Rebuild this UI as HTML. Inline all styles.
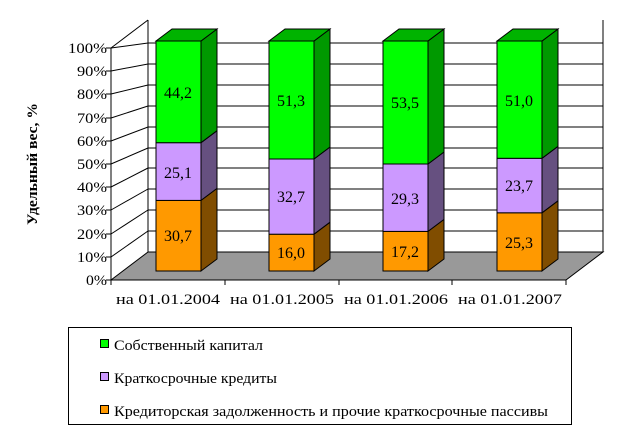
<!DOCTYPE html>
<html><head><meta charset="utf-8"><style>
body{margin:0;background:#fff;font-family:"Liberation Serif","Times New Roman",serif;}
text{font-family:"Liberation Serif","Times New Roman",serif !important;fill:#000;}
</style></head><body>
<svg width="620" height="434" xmlns="http://www.w3.org/2000/svg" font-family="Liberation Serif, Times New Roman, serif">
<g stroke="#000" stroke-width="1" fill="none">
<line x1="148" y1="20" x2="148" y2="252"/>
<line x1="603" y1="20" x2="603" y2="252"/>
<line x1="148" y1="43" x2="603" y2="43"/>
<line x1="148" y1="64" x2="603" y2="64"/>
<line x1="148" y1="85" x2="603" y2="85"/>
<line x1="148" y1="106" x2="603" y2="106"/>
<line x1="148" y1="127" x2="603" y2="127"/>
<line x1="148" y1="148" x2="603" y2="148"/>
<line x1="148" y1="168" x2="603" y2="168"/>
<line x1="148" y1="189" x2="603" y2="189"/>
<line x1="148" y1="210" x2="603" y2="210"/>
<line x1="148" y1="231" x2="603" y2="231"/>
<line x1="111" y1="48" x2="148" y2="20"/>
<line x1="111" y1="48" x2="148" y2="43"/>
<line x1="111" y1="71" x2="148" y2="64"/>
<line x1="111" y1="94" x2="148" y2="85"/>
<line x1="111" y1="118" x2="148" y2="106"/>
<line x1="111" y1="141" x2="148" y2="127"/>
<line x1="111" y1="164" x2="148" y2="148"/>
<line x1="111" y1="187" x2="148" y2="168"/>
<line x1="111" y1="210" x2="148" y2="189"/>
<line x1="111" y1="234" x2="148" y2="210"/>
<line x1="111" y1="257" x2="148" y2="231"/>
</g>
<polygon points="111,280 148,252 603,252 566,280" fill="#999" stroke="#000"/>
<line x1="111" y1="48" x2="111" y2="280" stroke="#000"/>
<g stroke="#000">
<line x1="106" y1="48" x2="111" y2="48"/><line x1="106" y1="71" x2="111" y2="71"/><line x1="106" y1="94" x2="111" y2="94"/><line x1="106" y1="118" x2="111" y2="118"/><line x1="106" y1="141" x2="111" y2="141"/><line x1="106" y1="164" x2="111" y2="164"/><line x1="106" y1="187" x2="111" y2="187"/><line x1="106" y1="210" x2="111" y2="210"/><line x1="106" y1="234" x2="111" y2="234"/><line x1="106" y1="257" x2="111" y2="257"/><line x1="106" y1="280" x2="111" y2="280"/>
<line x1="111" y1="280" x2="566" y2="280"/>
<line x1="111" y1="280" x2="111" y2="285"/><line x1="225" y1="280" x2="225" y2="285"/><line x1="339" y1="280" x2="339" y2="285"/><line x1="452" y1="280" x2="452" y2="285"/><line x1="566" y1="280" x2="566" y2="285"/>
</g>
<g font-size="15" text-anchor="end">
<text x="107" y="53" textLength="39" lengthAdjust="spacingAndGlyphs">100%</text><text x="107" y="76" textLength="30" lengthAdjust="spacingAndGlyphs">90%</text><text x="107" y="99" textLength="30" lengthAdjust="spacingAndGlyphs">80%</text><text x="107" y="123" textLength="30" lengthAdjust="spacingAndGlyphs">70%</text><text x="107" y="146" textLength="30" lengthAdjust="spacingAndGlyphs">60%</text><text x="107" y="169" textLength="30" lengthAdjust="spacingAndGlyphs">50%</text><text x="107" y="192" textLength="30" lengthAdjust="spacingAndGlyphs">40%</text><text x="107" y="215" textLength="30" lengthAdjust="spacingAndGlyphs">30%</text><text x="107" y="239" textLength="30" lengthAdjust="spacingAndGlyphs">20%</text><text x="107" y="262" textLength="30" lengthAdjust="spacingAndGlyphs">10%</text><text x="107" y="285" textLength="21" lengthAdjust="spacingAndGlyphs">0%</text>
</g>
<text transform="translate(37,164) rotate(-90)" font-size="15" font-weight="bold" text-anchor="middle" textLength="122" lengthAdjust="spacingAndGlyphs">Удельный вес, %</text>
<g font-size="15">
<text x="116" y="304" textLength="104" lengthAdjust="spacingAndGlyphs">на 01.01.2004</text><text x="230" y="304" textLength="104" lengthAdjust="spacingAndGlyphs">на 01.01.2005</text><text x="344" y="304" textLength="104" lengthAdjust="spacingAndGlyphs">на 01.01.2006</text><text x="458" y="304" textLength="104" lengthAdjust="spacingAndGlyphs">на 01.01.2007</text>
</g>
<g stroke="#000" stroke-width="1">
<rect x="156" y="200.4" width="45" height="70.6" fill="#FF9900"/>
<polygon points="201,271 217,259 217,188.4 201,200.4" fill="#804d00"/>
<rect x="156" y="142.7" width="45" height="57.7" fill="#CC99FF"/>
<polygon points="201,200.4 217,188.4 217,130.7 201,142.7" fill="#665080"/>
<rect x="156" y="41" width="45" height="101.7" fill="#00FF00"/>
<polygon points="201,142.7 217,130.7 217,29 201,41" fill="#009900"/>
<polygon points="156,41 172,29 217,29 201,41" fill="#00B300"/>
<rect x="269" y="234.2" width="45" height="36.8" fill="#FF9900"/>
<polygon points="314,271 330,259 330,222.2 314,234.2" fill="#804d00"/>
<rect x="269" y="159" width="45" height="75.2" fill="#CC99FF"/>
<polygon points="314,234.2 330,222.2 330,147 314,159" fill="#665080"/>
<rect x="269" y="41" width="45" height="118" fill="#00FF00"/>
<polygon points="314,159 330,147 330,29 314,41" fill="#009900"/>
<polygon points="269,41 285,29 330,29 314,41" fill="#00B300"/>
<rect x="383" y="231.4" width="45" height="39.6" fill="#FF9900"/>
<polygon points="428,271 444,259 444,219.4 428,231.4" fill="#804d00"/>
<rect x="383" y="164" width="45" height="67.4" fill="#CC99FF"/>
<polygon points="428,231.4 444,219.4 444,152 428,164" fill="#665080"/>
<rect x="383" y="41" width="45" height="123" fill="#00FF00"/>
<polygon points="428,164 444,152 444,29 428,41" fill="#009900"/>
<polygon points="383,41 399,29 444,29 428,41" fill="#00B300"/>
<rect x="497" y="212.8" width="45" height="58.2" fill="#FF9900"/>
<polygon points="542,271 558,259 558,200.8 542,212.8" fill="#804d00"/>
<rect x="497" y="158.3" width="45" height="54.5" fill="#CC99FF"/>
<polygon points="542,212.8 558,200.8 558,146.3 542,158.3" fill="#665080"/>
<rect x="497" y="41" width="45" height="117.3" fill="#00FF00"/>
<polygon points="542,158.3 558,146.3 558,29 542,41" fill="#009900"/>
<polygon points="497,41 513,29 558,29 542,41" fill="#00B300"/>
</g>
<g font-size="16" text-anchor="middle">
<text x="178" y="241">30,7</text><text x="178" y="178">25,1</text><text x="178" y="98">44,2</text>
<text x="291" y="258">16,0</text><text x="291" y="202">32,7</text><text x="291" y="106">51,3</text>
<text x="405" y="257">17,2</text><text x="405" y="204">29,3</text><text x="405" y="108">53,5</text>
<text x="519" y="248">25,3</text><text x="519" y="191">23,7</text><text x="519" y="106">51,0</text>
</g>
<rect x="68.5" y="327.5" width="503" height="97" fill="none" stroke="#000"/>
<g stroke="#000">
<rect x="100.5" y="339.5" width="8" height="8" fill="#00FF00"/>
<rect x="100.5" y="372.5" width="8" height="8" fill="#CC99FF"/>
<rect x="100.5" y="405.5" width="8" height="8" fill="#FF9900"/>
</g>
<g font-size="15">
<text x="114" y="350" textLength="149" lengthAdjust="spacingAndGlyphs">Собственный капитал</text>
<text x="114" y="383" textLength="163" lengthAdjust="spacingAndGlyphs">Краткосрочные кредиты</text>
<text x="114" y="416" textLength="434" lengthAdjust="spacingAndGlyphs">Кредиторская задолженность и прочие краткосрочные пассивы</text>
</g>
</svg>
</body></html>
